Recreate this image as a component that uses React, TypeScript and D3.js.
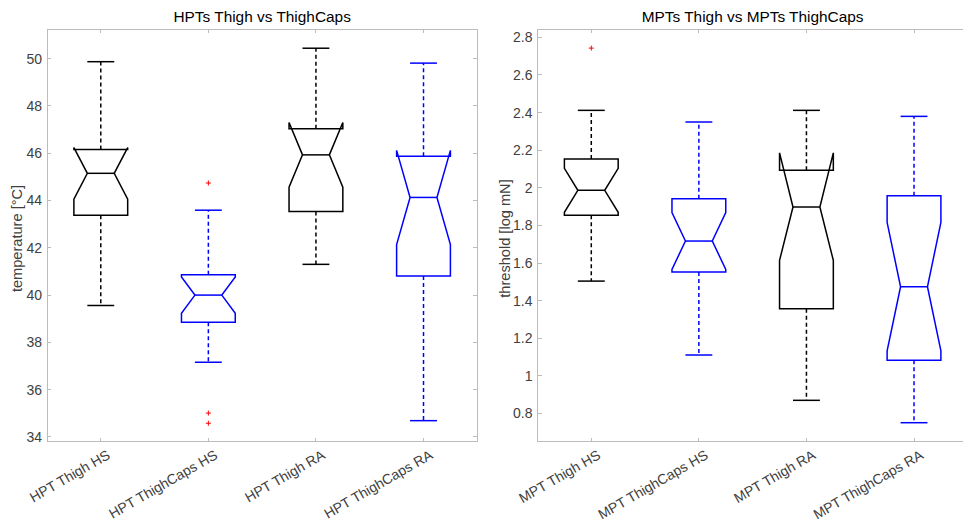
import React from "react";
import * as d3 from "d3";

// ---------- DATA ----------
const hptCategories = ["HPT Thigh HS", "HPT ThighCaps HS", "HPT Thigh RA", "HPT ThighCaps RA"];
const hptWhiskerLo = [39.56, 37.16, 41.3, 34.69];
const hptQ1 = [43.38, 38.85, 43.54, 40.81];
const hptNotchLo = [44.06, 39.23, 44.56, 42.14];
const hptMedian = [45.15, 40.0, 45.93, 44.13];
const hptNotchHi = [46.24, 40.77, 47.3, 46.12];
const hptQ3 = [46.16, 40.86, 47.03, 45.87];
const hptWhiskerHi = [49.87, 43.59, 50.44, 49.81];
const hptOutliers: number[][] = [[], [44.74, 35.01, 34.58], [], []];
const hptYTicks = [34, 36, 38, 40, 42, 44, 46, 48, 50];

const mptCategories = ["MPT Thigh HS", "MPT ThighCaps HS", "MPT Thigh RA", "MPT ThighCaps RA"];
const mptWhiskerLo = [1.504, 1.111, 0.87, 0.751];
const mptQ1 = [1.854, 1.552, 1.357, 1.083];
const mptNotchLo = [1.87, 1.566, 1.614, 1.133];
const mptMedian = [1.987, 1.717, 1.898, 1.474];
const mptNotchHi = [2.104, 1.868, 2.186, 1.816];
const mptQ3 = [2.153, 1.942, 2.094, 1.958];
const mptWhiskerHi = [2.412, 2.35, 2.412, 2.38];
const mptOutliers: number[][] = [[2.743], [], [], []];
const mptYTicks = [0.8, 1, 1.2, 1.4, 1.6, 1.8, 2, 2.2, 2.4, 2.6, 2.8];

const boxColors = ["#000000", "#0000ff", "#000000", "#0000ff"];

// ---------- STYLE ----------
const FONT = "'Liberation Sans', Arial, Helvetica, sans-serif";
const AXIS_COLOR = "#bcbcbc";
const TEXT_COLOR = "#404040";

interface PanelProps {
  left: number;
  right: number;
  top: number;
  bottom: number;
  yDomain: [number, number];
  title: string;
  yLabel: string;
  yLabelX: number;
  categories: string[];
  wLo: number[];
  q1: number[];
  nLo: number[];
  med: number[];
  nHi: number[];
  q3: number[];
  wHi: number[];
  outliers: number[][];
  yTicks: number[];
}

function Panel(p: PanelProps) {
  const x = d3.scaleLinear().domain([0.5, 4.5]).range([p.left, p.right]);
  const y = d3.scaleLinear().domain(p.yDomain).range([p.bottom, p.top]);
  const fmt = (v: number) => String(+v.toFixed(2));
  const tickLen = 4;
  const sw = 1.5;

  return (
    <g>
      {/* axes box */}
      <rect x={p.left} y={p.top} width={p.right - p.left} height={p.bottom - p.top}
        fill="none" stroke={AXIS_COLOR} strokeWidth={1} shapeRendering="crispEdges" />
      {/* y ticks */}
      {p.yTicks.map((t, i) => (
        <g key={"yt" + i}>
          <line x1={p.left} x2={p.left + tickLen} y1={y(t)} y2={y(t)} stroke={AXIS_COLOR} shapeRendering="crispEdges" />
          <line x1={p.right} x2={p.right - tickLen} y1={y(t)} y2={y(t)} stroke={AXIS_COLOR} shapeRendering="crispEdges" />
          <text x={p.left - 5} y={y(t)} dy="0.35em" textAnchor="end" fontSize={14}
            fontFamily={FONT} fill={TEXT_COLOR}>{fmt(t)}</text>
        </g>
      ))}
      {/* x ticks */}
      {p.categories.map((c, i) => {
        const cx = x(i + 1);
        return (
          <g key={"xt" + i}>
            <line x1={cx} x2={cx} y1={p.bottom} y2={p.bottom - tickLen} stroke={AXIS_COLOR} shapeRendering="crispEdges" />
            <line x1={cx} x2={cx} y1={p.top} y2={p.top + tickLen} stroke={AXIS_COLOR} shapeRendering="crispEdges" />
            <text transform={`translate(${cx + 5},${p.bottom + 7}) rotate(-30)`} textAnchor="end"
              dy="0.75em" fontSize={14} fontFamily={FONT} fill={TEXT_COLOR}>{c}</text>
          </g>
        );
      })}
      {/* title */}
      <text x={(p.left + p.right) / 2} y={p.top - 7} textAnchor="middle" fontSize={15.4}
        fontFamily={FONT} fill="#000">{p.title}</text>
      {/* y label */}
      <text transform={`translate(${p.yLabelX},${(p.top + p.bottom) / 2 + 3}) rotate(-90)`} textAnchor="middle"
        dy="0.35em" fontSize={14.6} fontFamily={FONT} fill={TEXT_COLOR}>{p.yLabel}</text>
      {/* boxes */}
      {p.categories.map((c, i) => {
        const cx = x(i + 1);
        const w = x(i + 1.25) - cx;
        const n = w / 2;
        const col = boxColors[i];
        const pts: [number, number][] = [
          [cx - w, y(p.q1[i])],
          [cx - w, y(p.nLo[i])],
          [cx - n, y(p.med[i])],
          [cx - w, y(p.nHi[i])],
          [cx - w, y(p.q3[i])],
          [cx + w, y(p.q3[i])],
          [cx + w, y(p.nHi[i])],
          [cx + n, y(p.med[i])],
          [cx + w, y(p.nLo[i])],
          [cx + w, y(p.q1[i])],
        ];
        const path = d3.line()(pts) + "Z";
        return (
          <g key={"b" + i}>
            <line x1={cx} x2={cx} y1={y(p.q3[i])} y2={y(p.wHi[i])} stroke={col} strokeWidth={sw} strokeDasharray="4,3" />
            <line x1={cx} x2={cx} y1={y(p.q1[i])} y2={y(p.wLo[i])} stroke={col} strokeWidth={sw} strokeDasharray="4,3" />
            <line x1={cx - n} x2={cx + n} y1={y(p.wHi[i])} y2={y(p.wHi[i])} stroke={col} strokeWidth={sw} />
            <line x1={cx - n} x2={cx + n} y1={y(p.wLo[i])} y2={y(p.wLo[i])} stroke={col} strokeWidth={sw} />
            <path d={path} fill="none" stroke={col} strokeWidth={sw} strokeLinejoin="miter" />
            <line x1={cx - n} x2={cx + n} y1={y(p.med[i])} y2={y(p.med[i])} stroke={col} strokeWidth={sw} />
            {p.outliers[i].map((o, k) => (
              <g key={"o" + k} stroke="#ff0000" strokeWidth={1}>
                <line x1={cx - 2.5} x2={cx + 2.5} y1={y(o)} y2={y(o)} />
                <line x1={cx} x2={cx} y1={y(o) - 2.5} y2={y(o) + 2.5} />
              </g>
            ))}
          </g>
        );
      })}
    </g>
  );
}

export default function App() {
  return (
    <svg width={963} height={522} style={{ position: "absolute", left: 0, top: 0, background: "#fff" }}>
      <rect x={0} y={0} width={963} height={522} fill="#fff" />
      <Panel left={47} right={477.3} top={29.3} bottom={441.7} yDomain={[33.8, 51.24]}
        title="HPTs Thigh vs ThighCaps" yLabel="temperature [°C]" yLabelX={17}
        categories={hptCategories} wLo={hptWhiskerLo} q1={hptQ1} nLo={hptNotchLo} med={hptMedian}
        nHi={hptNotchHi} q3={hptQ3} wHi={hptWhiskerHi} outliers={hptOutliers} yTicks={hptYTicks} />
      <Panel left={537.5} right={967.8} top={29.3} bottom={441.7} yDomain={[0.65, 2.843]}
        title="MPTs Thigh vs MPTs ThighCaps" yLabel="threshold [log mN]" yLabelX={505}
        categories={mptCategories} wLo={mptWhiskerLo} q1={mptQ1} nLo={mptNotchLo} med={mptMedian}
        nHi={mptNotchHi} q3={mptQ3} wHi={mptWhiskerHi} outliers={mptOutliers} yTicks={mptYTicks} />
    </svg>
  );
}
